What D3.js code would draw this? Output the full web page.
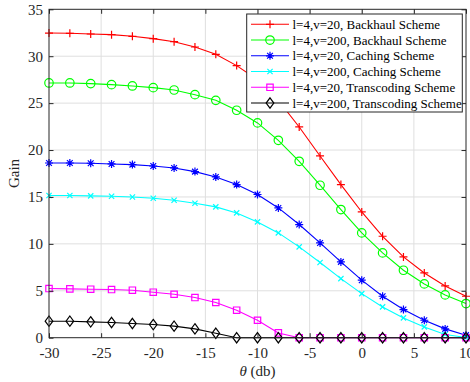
<!DOCTYPE html>
<html>
<head>
<meta charset="utf-8">
<script src="https://cdn.jsdelivr.net/npm/d3@7"></script>
<style>
  html, body { margin: 0; padding: 0; background: #fff; }
  svg { display: block; font-family: "Liberation Serif", "Times New Roman", serif; }
</style>
</head>
<body>
<svg id="chart" width="470" height="382"></svg>
<script>
// SNR threshold theta (dB), sampled every 2 dB
const theta = [-30, -28, -26, -24, -22, -20, -18, -16, -14, -12, -10, -8, -6, -4, -2, 0, 2, 4, 6, 8, 10];

// Gain for each scheme / parameter set
const backhaul20  = [32.47, 32.44, 32.37, 32.3, 32.12, 31.87, 31.55, 30.98, 30.2, 29.0, 27.5, 25.3, 22.46, 19.37, 16.32, 13.4, 10.81, 8.61, 6.9, 5.52, 4.42];
const backhaul200 = [27.15, 27.15, 27.08, 26.97, 26.83, 26.65, 26.4, 25.9, 25.3, 24.24, 22.89, 21.04, 18.8, 16.25, 13.66, 11.17, 9.04, 7.19, 5.73, 4.56, 3.64];
const caching20   = [18.62, 18.62, 18.59, 18.52, 18.45, 18.3, 18.09, 17.7, 17.13, 16.32, 15.26, 13.83, 12.06, 10.1, 8.08, 6.13, 4.42, 3.0, 1.86, 0.94, 0.27];
const caching200  = [15.15, 15.15, 15.12, 15.08, 15.0, 14.86, 14.65, 14.33, 13.94, 13.3, 12.34, 11.17, 9.68, 8.01, 6.3, 4.7, 3.28, 2.11, 1.15, 0.34, 0.02];
const transcode20  = [5.24, 5.2, 5.17, 5.13, 5.06, 4.85, 4.63, 4.28, 3.75, 2.93, 1.86, 0.51, 0, 0, 0, 0, 0, 0, 0, 0, 0];
const transcode200 = [1.76, 1.76, 1.69, 1.62, 1.51, 1.4, 1.23, 0.94, 0.48, 0, 0, 0, 0, 0, 0, 0, 0, 0, 0, 0, 0];

const xTicks = [-30, -25, -20, -15, -10, -5, 0, 5, 10];
const yTicks = [0, 5, 10, 15, 20, 25, 30, 35];

const seriesNames = [
  "l=4,v=20, Backhaul Scheme",
  "l=4,v=200, Backhaul Scheme",
  "l=4,v=20, Caching Scheme",
  "l=4,v=200, Caching Scheme",
  "l=4,v=20, Transcoding Scheme",
  "l=4,v=200, Transcoding Scheme"
];
const seriesValues = [backhaul20, backhaul200, caching20, caching200, transcode20, transcode200];
const seriesColors = ["#ff0000", "#00ff00", "#0000ff", "#00ffff", "#ff00ff", "#000000"];
const seriesMarkers = ["plus", "circle", "star", "cross", "square", "diamond"];

const svg = d3.select("#chart");
const m = { left: 49, right: 466, top: 9.3, bottom: 337.7 };

const x = d3.scaleLinear().domain([-30, 10]).range([m.left, m.right]);
const y = d3.scaleLinear().domain([0, 35]).range([m.bottom, m.top]);

const axisColor = "#262626";
const tickFmt = d => String(d); // plain hyphen-minus for negatives

// grid
const grid = svg.append("g");
grid.selectAll("line.gx").data(xTicks.slice(1, -1)).enter().append("line")
  .attr("x1", d => x(d)).attr("x2", d => x(d))
  .attr("y1", m.top).attr("y2", m.bottom)
  .attr("stroke", "#dfdfdf").attr("stroke-width", 1);
grid.selectAll("line.gy").data(yTicks.slice(1, -1)).enter().append("line")
  .attr("x1", m.left).attr("x2", m.right)
  .attr("y1", d => y(d)).attr("y2", d => y(d))
  .attr("stroke", "#dfdfdf").attr("stroke-width", 1);

// series
function markerPath(type, s) {
  const h = s / 2;
  switch (type) {
    case "plus": return `M${-h},0H${h}M0,${-h}V${h}`;
    case "cross": return `M${-h*0.75},${-h*0.75}L${h*0.75},${h*0.75}M${-h*0.75},${h*0.75}L${h*0.75},${-h*0.75}`;
    case "star": {
      const a = h * 0.72;
      return `M${-h},0H${h}M0,${-h}V${h}M${-a},${-a}L${a},${a}M${-a},${a}L${a},${-a}`;
    }
    case "circle": return d3.arc()({ innerRadius: 0, outerRadius: h, startAngle: 0, endAngle: 2 * Math.PI });
    case "square": return `M${-h*0.8},${-h*0.8}H${h*0.8}V${h*0.8}H${-h*0.8}Z`;
    case "diamond": return `M0,${-h*1.15}L${h*0.85},0L0,${h*1.15}L${-h*0.85},0Z`;
  }
}
const markerSize = { plus: 8, circle: 8.5, star: 8, cross: 7, square: 8, diamond: 9 };

const line = d3.line().x(d => x(d[0])).y(d => y(d[1]));
const plot = svg.append("g");
seriesValues.forEach((vals, i) => {
  const pts = theta.map((t, j) => [t, vals[j]]);
  const g = plot.append("g");
  g.append("path").datum(pts).attr("d", line)
    .attr("fill", "none").attr("stroke", seriesColors[i]).attr("stroke-width", 1.1);
  g.selectAll("path.mk").data(pts).enter().append("path")
    .attr("transform", d => `translate(${x(d[0])},${y(d[1])})`)
    .attr("d", markerPath(seriesMarkers[i], markerSize[seriesMarkers[i]]))
    .attr("fill", "none").attr("stroke", seriesColors[i]).attr("stroke-width", 1.2);
});

// axes box with inward ticks on all four sides
const tickLen = 4.5;
const axX = d3.axisBottom(x).tickValues(xTicks).tickSize(-tickLen).tickPadding(10).tickFormat(tickFmt);
const axY = d3.axisLeft(y).tickValues(yTicks).tickSize(-tickLen).tickPadding(10).tickFormat(tickFmt);
const axXt = d3.axisTop(x).tickValues(xTicks).tickSize(-tickLen).tickFormat("");
const axYr = d3.axisRight(y).tickValues(yTicks).tickSize(-tickLen).tickFormat("");

function styleAxis(g) {
  g.select(".domain").remove();
  g.selectAll("line").attr("stroke", axisColor);
  g.selectAll("text").attr("fill", axisColor).attr("font-size", 15)
    .attr("font-family", "Liberation Serif, Times New Roman, serif");
}
svg.append("g").attr("transform", `translate(0,${m.bottom})`).call(axX).call(styleAxis)
  .selectAll("text").attr("dy", "0.71em").attr("y", 10);
svg.append("g").attr("transform", `translate(${m.left},0)`).call(axY).call(styleAxis)
  .selectAll("text").attr("x", -6);
svg.append("g").attr("transform", `translate(0,${m.top})`).call(axXt).call(styleAxis);
svg.append("g").attr("transform", `translate(${m.right},0)`).call(axYr).call(styleAxis);

svg.append("rect")
  .attr("x", m.left).attr("y", m.top)
  .attr("width", m.right - m.left).attr("height", m.bottom - m.top)
  .attr("fill", "none").attr("stroke", axisColor).attr("stroke-width", 1);

// axis labels
svg.append("text")
  .attr("x", (m.left + m.right) / 2).attr("y", 376)
  .attr("text-anchor", "middle").attr("font-size", 15).attr("fill", axisColor)
  .html('<tspan font-style="italic">θ</tspan> (db)');
svg.append("text")
  .attr("transform", `translate(19,${(m.top + m.bottom) / 2}) rotate(-90)`)
  .attr("text-anchor", "middle").attr("font-size", 15).attr("fill", axisColor)
  .text("Gain");

// legend
const lg = svg.append("g");
const lgBox = { x: 246.7, y: 14, w: 215.6, h: 98 };
lg.append("rect")
  .attr("x", lgBox.x).attr("y", lgBox.y).attr("width", lgBox.w).attr("height", lgBox.h)
  .attr("fill", "#fff").attr("stroke", axisColor).attr("stroke-width", 1);
seriesNames.forEach((name, i) => {
  const cy = 24.3 + i * 15.75;
  lg.append("line").attr("x1", 251).attr("x2", 289).attr("y1", cy).attr("y2", cy)
    .attr("stroke", seriesColors[i]).attr("stroke-width", 1.1);
  lg.append("path").attr("transform", `translate(270,${cy})`)
    .attr("d", markerPath(seriesMarkers[i], markerSize[seriesMarkers[i]]))
    .attr("fill", "none").attr("stroke", seriesColors[i]).attr("stroke-width", 1.2);
  lg.append("text").attr("x", 292.5).attr("y", cy).attr("dy", "0.35em")
    .attr("font-size", 13).attr("fill", "#000").text(name);
});
</script>
</body>
</html>
